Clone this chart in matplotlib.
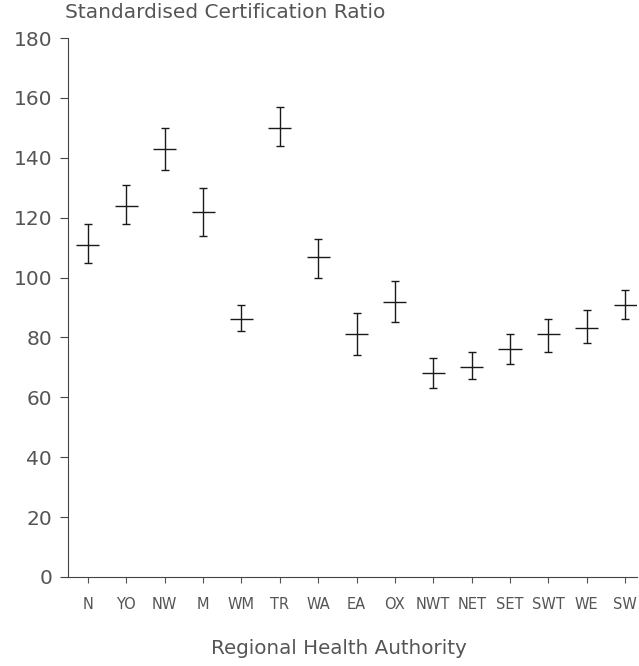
import matplotlib
matplotlib.use("Agg")
import matplotlib.pyplot as plt
import numpy as np

regions = ["N", "YO", "NW", "M", "WM", "TR", "WA", "EA", "OX",
           "NWT", "NET", "SET", "SWT", "WE", "SW"]
ratio = [111, 124, 143, 122, 86, 150, 107, 81, 92, 68, 70, 76, 81, 83, 91]
lower = [105, 118, 136, 114, 82, 144, 100, 74, 85, 63, 66, 71, 75, 78, 86]
upper = [118, 131, 150, 130, 91, 157, 113, 88, 99, 73, 75, 81, 86, 89, 96]
yticks = [0, 20, 40, 60, 80, 100, 120, 140, 160, 180]

plt.rcParams['font.family'] = ['DejaVu Sans']
fig = plt.figure(figsize=(6.39, 6.66), dpi=100)
ax = fig.add_axes([68/639, 1-577/666, (637-68)/639, (577-38)/666])

x = np.arange(len(regions))
r = np.array(ratio)
yerr = np.vstack([r - np.array(lower), np.array(upper) - r])
ax.errorbar(x, r, yerr=yerr, fmt='none', ecolor='#1a1a1a', elinewidth=1.0,
            capsize=3, capthick=1.0)
# horizontal crossbar at the ratio
ax.errorbar(x, r, xerr=0.3, fmt='none', ecolor='#1a1a1a', elinewidth=1.0,
            capsize=0)

ax.set_xlim(-0.52, 14.31)
ax.set_ylim(0, 180)
ax.set_yticks(yticks)
ax.set_xticks(x)
ax.set_xticklabels(regions, fontsize=10.5, color='#555555')
ax.tick_params(axis='y', labelsize=14.5, labelcolor='#555555', color='#444444',
               length=6, direction='out', pad=5.5, width=0.8)
ax.tick_params(axis='x', length=4.3, direction='out', pad=10, color='#555555',
               width=0.8)
for s in ['top', 'right']:
    ax.spines[s].set_visible(False)
for s in ['left', 'bottom']:
    ax.spines[s].set_color('#444444')
    ax.spines[s].set_linewidth(0.8)

fig.text(65/639, 1-12/666, "Standardised Certification Ratio", fontsize=14.5,
         color='#555555', va='center', ha='left')
fig.text(339/639, 1-648/666, "Regional Health Authority", fontsize=14.3,
         color='#555555', va='center', ha='center')

fig.savefig("out.png", dpi=100)
